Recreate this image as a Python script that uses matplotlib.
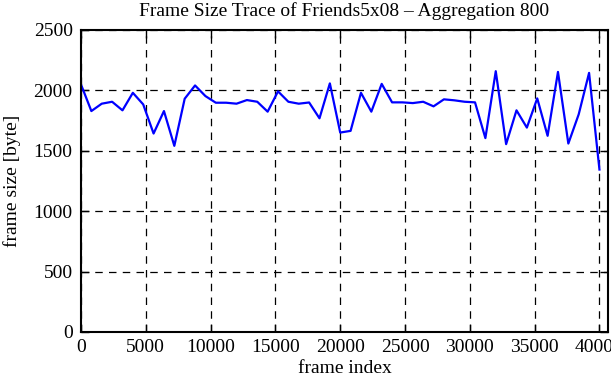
import matplotlib
matplotlib.use("Agg")
import matplotlib.pyplot as plt
import numpy as np

plt.rcParams['font.family'] = ['Liberation Serif', 'DejaVu Serif']

aggregation = 800
frame_size = [2049, 1829, 1890, 1906, 1835, 1980, 1884, 1643, 1829, 1541,
              1931, 2041, 1953, 1898, 1898, 1890, 1920, 1906, 1824, 1992,
              1906, 1890, 1900, 1769, 2058, 1651, 1665, 1980, 1824, 2054,
              1901, 1901, 1895, 1906, 1868, 1926, 1918, 1906, 1901, 1605,
              2159, 1555, 1835, 1692, 1934, 1624, 2153, 1560, 1802, 2145,
              1345]
frame_index = [i * aggregation for i in range(len(frame_size))]
xticks = [0, 5000, 10000, 15000, 20000, 25000, 30000, 35000, 40000]
yticks = [0, 500, 1000, 1500, 2000, 2500]

fig = plt.figure(figsize=(6.11, 3.80), dpi=100)
ax = fig.add_axes([81/611, 1-332/380, (608-81)/611, (332-30)/380])

ax.plot(frame_index, frame_size, color='#0000ff', linewidth=1.6)

ax.set_xlim(0, 40660)
ax.set_ylim(0, 2500)
ax.set_xticks(xticks)
ax.set_yticks(yticks)
ax.set_xticklabels([str(t) for t in xticks])
ax.set_yticklabels([str(t) for t in yticks])
ax.grid(True, color='black', linestyle=(0, (6, 5)), linewidth=0.9)
ax.tick_params(direction='in', length=6, width=1, top=True, right=True,
               labelsize=14, colors='black')
ax.tick_params(axis='x', pad=5)
ax.tick_params(axis='y', pad=6)
for s in ax.spines.values():
    s.set_linewidth(1.5)

ax.set_title('Frame Size Trace of Friends5x08 \u2013 Aggregation 800', fontsize=14, pad=10)
ax.set_xlabel('frame index', fontsize=14, labelpad=3)
ax.set_ylabel('frame size [byte]', fontsize=14, labelpad=9)

fig.savefig('out.png', dpi=100)
